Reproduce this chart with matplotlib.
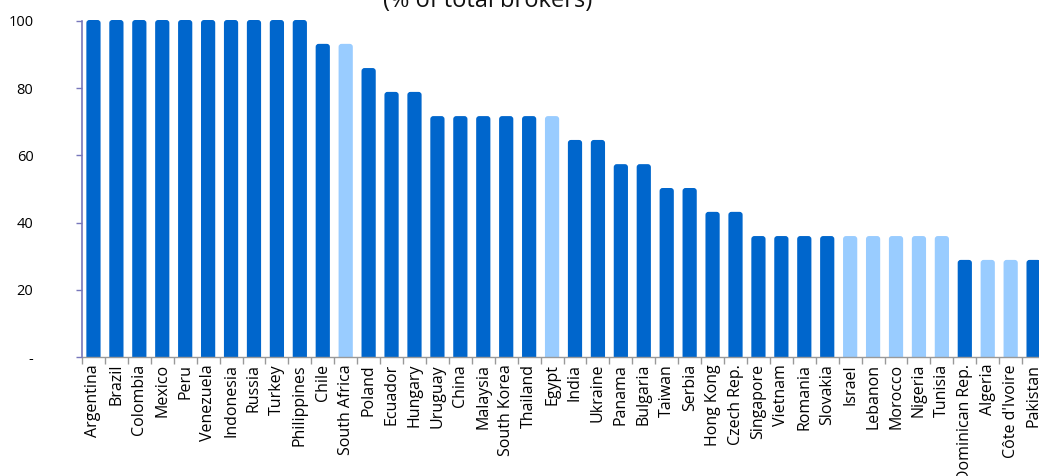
import matplotlib
matplotlib.use("Agg")
import matplotlib.pyplot as plt
from matplotlib.patches import FancyBboxPatch, Rectangle

countries = ["Argentina", "Brazil", "Colombia", "Mexico", "Peru", "Venezuela", "Indonesia",
             "Russia", "Turkey", "Philippines", "Chile", "South Africa", "Poland", "Ecuador",
             "Hungary", "Uruguay", "China", "Malaysia", "South Korea", "Thailand", "Egypt",
             "India", "Ukraine", "Panama", "Bulgaria", "Taiwan", "Serbia", "Hong Kong",
             "Czech Rep.", "Singapore", "Vietnam", "Romania", "Slovakia", "Israel", "Lebanon",
             "Morocco", "Nigeria", "Tunisia", "Dominican Rep.", "Algeria", "Côte d'Ivoire",
             "Pakistan"]
values = [100, 100, 100, 100, 100, 100, 100, 100, 100, 100, 92.9, 92.9, 85.7, 78.6, 78.6,
          71.4, 71.4, 71.4, 71.4, 71.4, 71.4, 64.3, 64.3, 57.1, 57.1, 50.0, 50.0, 42.9, 42.9,
          35.7, 35.7, 35.7, 35.7, 35.7, 35.7, 35.7, 35.7, 35.7, 28.6, 28.6, 28.6, 28.6]
# 1 = dark series, 0 = light series
dark = [1, 1, 1, 1, 1, 1, 1, 1, 1, 1, 1, 0, 1, 1, 1, 1, 1, 1, 1, 1, 0, 1, 1, 1, 1, 1, 1, 1, 1,
        1, 1, 1, 1, 0, 0, 0, 0, 0, 1, 0, 0, 1]
yticks = [0, 20, 40, 60, 80, 100]
ytick_labels = ["-", "20", "40", "60", "80", "100"]
title = "(% of total brokers)"

DARK = "#0066CC"
LIGHT = "#99CCFF"

plt.rcParams['font.family'] = ['Open Sans', 'DejaVu Sans']

W, H = 1039, 476
fig = plt.figure(figsize=(W / 100, H / 100), dpi=100)
left_px, right_px, top_px, bot_px = 82, 82 + 42 * 22.93, 21, 357
ax = fig.add_axes([left_px / W, 1 - bot_px / H, (right_px - left_px) / W, (bot_px - top_px) / H])

x = list(range(len(countries)))
colors = [DARK if d else LIGHT for d in dark]
bars = ax.bar(x, values, width=0.62, color=colors, zorder=2)
ax.set_xlim(-0.5, len(countries) - 0.5)
ax.set_ylim(0, 100)

# rounded top corners
ax_w_px = right_px - left_px
ax_h_px = bot_px - top_px
xu_per_px = len(countries) / ax_w_px
yu_per_px = 100 / ax_h_px
clip_rect = Rectangle((0, 0), 1, 1.2, transform=ax.transAxes, facecolor="none", edgecolor="none")
ax.add_patch(clip_rect)
for b in bars:
    b.set_visible(False)
    xx, yy = b.get_x(), b.get_y()
    w, h = b.get_width(), b.get_height()
    p = FancyBboxPatch((xx, yy - 4 * yu_per_px), w, h + 5 * yu_per_px,
                       boxstyle="round,pad=0,rounding_size=%f" % (3 * xu_per_px),
                       mutation_aspect=yu_per_px / xu_per_px,
                       facecolor=b.get_facecolor(), edgecolor="none", zorder=2,
                       clip_on=True)
    ax.add_patch(p)
    p.set_clip_path(clip_rect)

ax.set_yticks(yticks)
ax.set_yticklabels(ytick_labels, fontsize=10.5)
ax.tick_params(axis='y', length=4, color="#7777BB", pad=31, width=1)
ax.set_xticks([i - 0.5 for i in range(len(countries) + 1)], minor=False)
ax.set_xticklabels([])
ax.set_xticks(x, minor=True)
ax.set_xticklabels(countries, minor=True, rotation=90, fontsize=11.5, va='top', ha='center')
ax.tick_params(axis='x', which='major', length=5, color="#999999", width=1)
ax.tick_params(axis='x', which='minor', length=0, pad=5)

for s in ["top", "right"]:
    ax.spines[s].set_visible(False)
ax.spines["left"].set_color("#7777BB")
ax.spines["left"].set_linewidth(1.2)
ax.spines["bottom"].set_color("#999999")
ax.spines["bottom"].set_linewidth(1)
ax.spines["left"].set_zorder(3)

fig.text(488 / W, 1 - 7 / H, title, ha='center', va='baseline', fontsize=17, color="#111111")

fig.savefig("out.png", dpi=100)
